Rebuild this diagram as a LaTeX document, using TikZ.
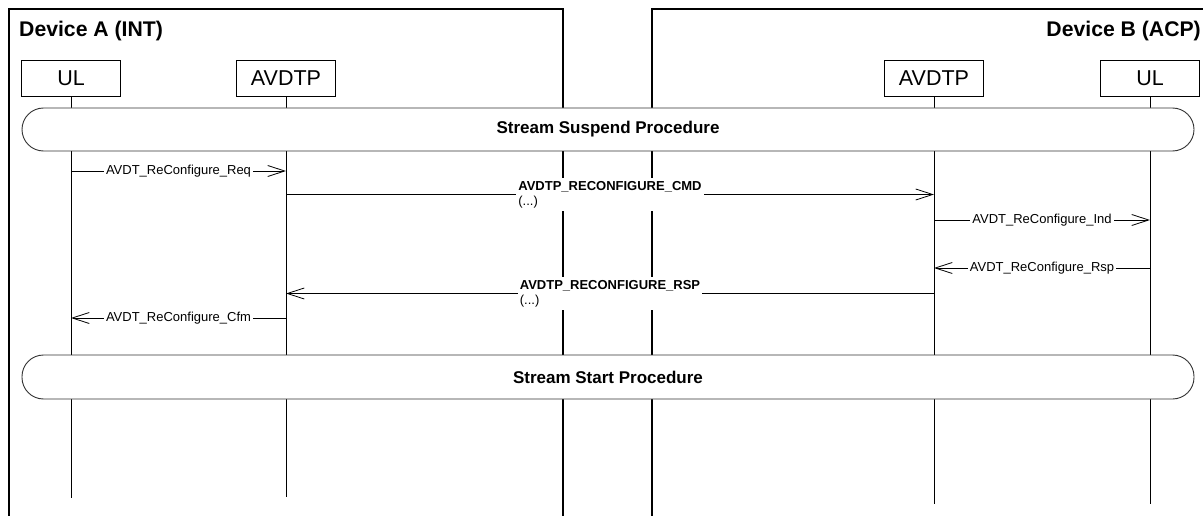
\documentclass[tikz,border=0pt]{standalone}
\usepackage{fontspec}
\setmainfont{Liberation Sans}
\usetikzlibrary{arrows.meta}
\begin{document}
\begin{tikzpicture}[x=1pt,y=-1pt,
  frameline/.style={line width=2pt,black},
  lifebox/.style={draw,line width=0.8pt,minimum width=99pt,minimum height=36pt,inner sep=0pt,font=\fontsize{21.5}{23}\selectfont},
  lifeline/.style={line width=1pt},
  band/.style={draw=black!80,line width=0.9pt,fill=white,minimum width=1172pt,rounded corners=21.5pt,inner sep=0pt,font=\bfseries\fontsize{17}{19}\selectfont},
  devlabel/.style={font=\bfseries\fontsize{21.2}{23}\selectfont,inner sep=0pt},
  msg/.style={line width=0.8pt,-{Straight Barb[length=17pt,width=11pt,line width=0.8pt]}},
  msglabel/.style={fill=white,inner xsep=2pt,inner ysep=1pt,font=\fontsize{13}{15}\selectfont},
  biglabel/.style={fill=white,inner xsep=2pt,inner ysep=3pt,align=left,font=\fontsize{13}{15}\selectfont}
]
\useasboundingbox (0,0) rectangle (1203,516);
% device frames
\draw[frameline] (9,520) -- (9,9) -- (563,9) -- (563,520);
\draw[frameline] (652,520) -- (652,9) -- (1210,9);
\node[devlabel,anchor=west] (devA) at (19,31) {Device A (INT)};
\node[devlabel,anchor=east] (devB) at (1201,31) {Device B (ACP)};
% lifeline heads
\node[lifebox] (ulA) at (71,78) {UL};
\node[lifebox] (avA) at (286,78) {AVDTP};
\node[lifebox] (avB) at (934,78) {AVDTP};
\node[lifebox] (ulB) at (1150,78) {UL};
% lifeline ends
\coordinate (ulAend) at (71,498);
\coordinate (avAend) at (286,497);
\coordinate (avBend) at (934,504);
\coordinate (ulBend) at (1150,504);
\draw[lifeline] (ulA.south) -- (ulAend);
\draw[lifeline] (avA.south) -- (avAend);
\draw[lifeline] (avB.south) -- (avBend);
\draw[lifeline] (ulB.south) -- (ulBend);
% procedure bands
\node[band,minimum height=43pt] (susp) at (608,129.5) {Stream Suspend Procedure};
\node[band,minimum height=44pt] (start) at (608,377) {Stream Start Procedure};
% message endpoints
\coordinate (m1a) at (71,171);   \coordinate (m1b) at (286,171);
\coordinate (m2a) at (286,194.5);\coordinate (m2b) at (934,194.5);
\coordinate (m3a) at (934,220);  \coordinate (m3b) at (1150,220);
\coordinate (m4a) at (1150,268); \coordinate (m4b) at (934,268);
\coordinate (m5a) at (934,293.5);\coordinate (m5b) at (286,293.5);
\coordinate (m6a) at (286,318);  \coordinate (m6b) at (71,318);
% messages
\draw[msg] (m1a) -- node[msglabel] (l1) {AVDT\_ReConfigure\_Req} (m1b);
\draw[msg] (m2a) -- node[biglabel] (l2) {\textbf{AVDTP\_RECONFIGURE\_CMD}\\(...)} (m2b);
\draw[msg] (m3a) -- node[msglabel] (l3) {AVDT\_ReConfigure\_Ind} (m3b);
\draw[msg] (m4a) -- node[msglabel] (l4) {AVDT\_ReConfigure\_Rsp} (m4b);
\draw[msg] (m5a) -- node[biglabel] (l5) {\textbf{AVDTP\_RECONFIGURE\_RSP}\\(...)} (m5b);
\draw[msg] (m6a) -- node[msglabel] (l6) {AVDT\_ReConfigure\_Cfm} (m6b);
\end{tikzpicture}
\end{document}
